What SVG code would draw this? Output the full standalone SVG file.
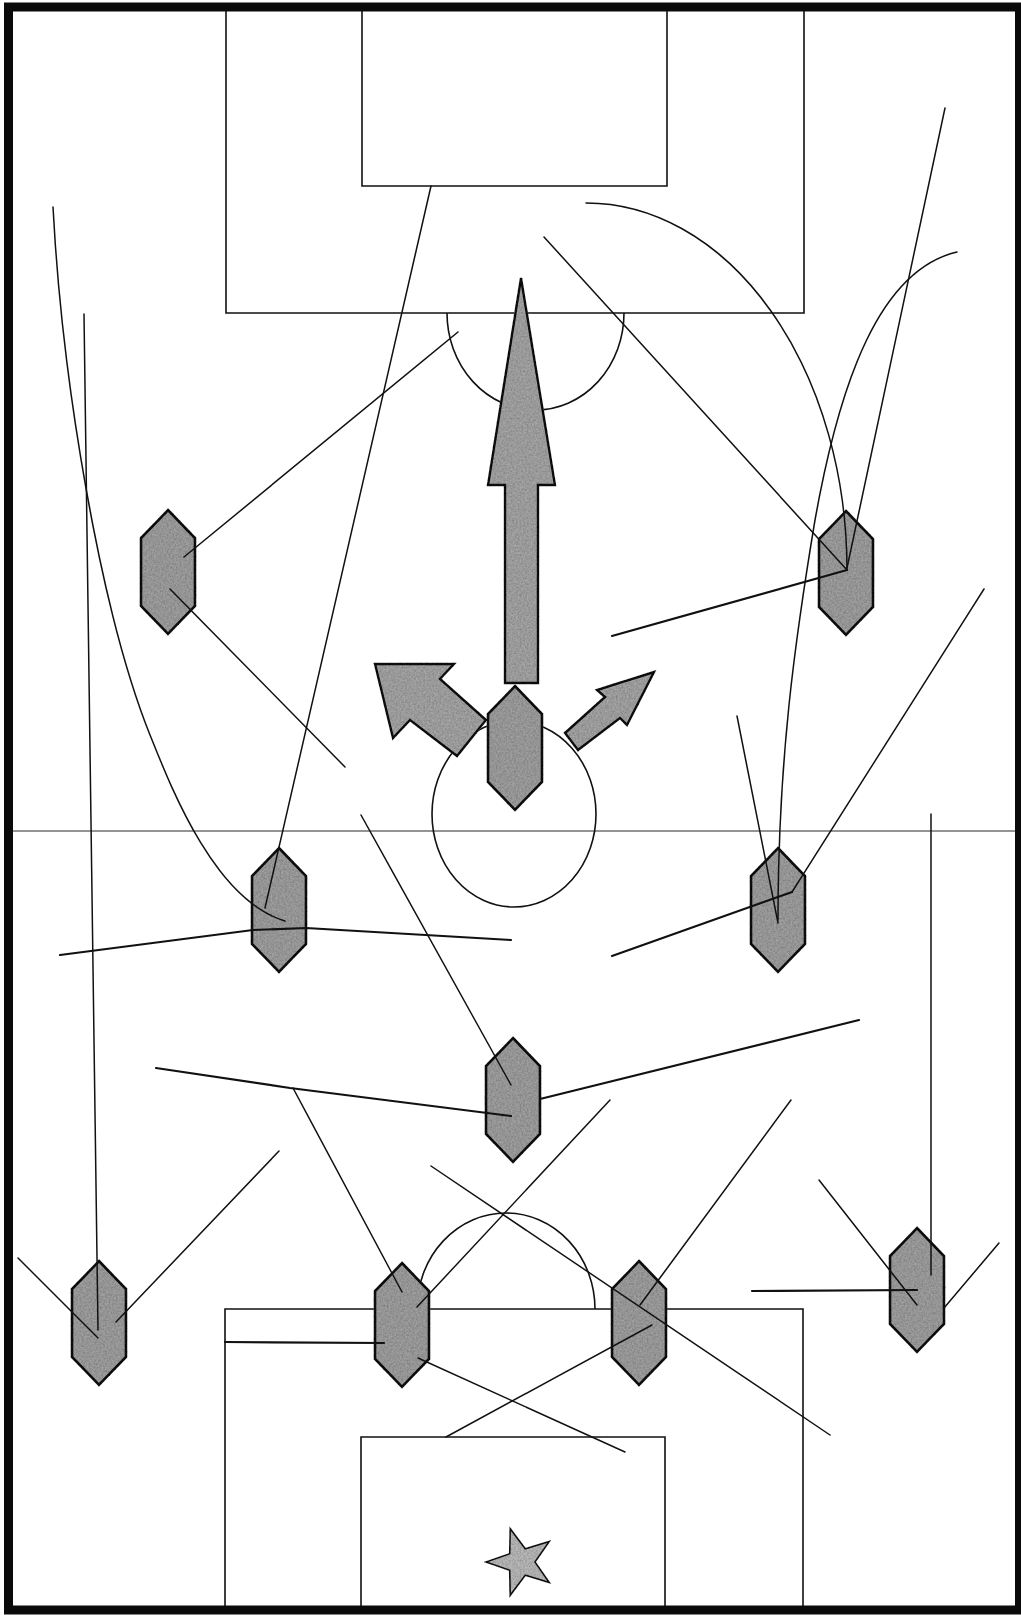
<svg xmlns="http://www.w3.org/2000/svg" xmlns:xlink="http://www.w3.org/1999/xlink" width="1021" height="1615" viewBox="0 0 1021 1615">
<style>
.pitch{fill:none;stroke:#111;stroke-width:1.6}
.half{fill:none;stroke:#707070;stroke-width:1.6}
.pl{fill:#a8a8a8;stroke:#0a0a0a;stroke-width:2.6;stroke-linejoin:miter}
.arr{fill:#aeaeae;stroke:#0a0a0a;stroke-width:2.4;stroke-linejoin:miter}
.ln{fill:none;stroke:#111;stroke-width:1.5;stroke-linecap:round;stroke-linejoin:round}
.lb{stroke-width:2.2}
.star{fill:#c4c4c4;stroke:#111;stroke-width:1.6}
</style>
<defs>
<polygon id="hex" points="0,-62 27,-34 27,34 0,62 -27,34 -27,-34"/>
<filter id="grain" filterUnits="userSpaceOnUse" x="0" y="0" width="1021" height="1615">
<feTurbulence type="fractalNoise" baseFrequency="0.55" numOctaves="2" seed="5" result="noise"/>
<feColorMatrix in="noise" type="saturate" values="0" result="g"/>
<feComponentTransfer in="g" result="g2">
<feFuncR type="linear" slope="1.8" intercept="-0.45"/>
<feFuncG type="linear" slope="1.8" intercept="-0.45"/>
<feFuncB type="linear" slope="1.8" intercept="-0.45"/>
<feFuncA type="linear" slope="0" intercept="0.45"/>
</feComponentTransfer>
<feComposite in="g2" in2="SourceGraphic" operator="in" result="tex"/>
<feBlend in="tex" in2="SourceGraphic" mode="multiply"/>
</filter>
</defs>
<rect x="0" y="0" width="1021" height="1615" fill="#fff"/>
<g id="pitch">
<rect x="8.5" y="7" width="1011" height="1603" fill="none" stroke="#0a0a0a" stroke-width="9"/>
<path class="pitch" d="M226,11V313H804V11"/>
<path class="pitch" d="M362,11V186H667V11"/>
<path class="pitch" d="M447,313A88.5,97 0 0 0 624,313"/>
<line class="half" x1="13" y1="831" x2="1015" y2="831"/>
<ellipse class="pitch" cx="514" cy="814" rx="82" ry="93"/>
<path class="pitch" d="M225,1606V1309H803V1606"/>
<path class="pitch" d="M361,1606V1437H665V1606"/>
<path class="pitch" d="M417,1309A89,96 0 0 1 595,1309"/>
</g>
<g filter="url(#grain)">
<g id="arrow-main"><polygon class="arr" points="521,278 555,485 538,485 538,683 505,683 505,485 488,485"/></g>
<g id="arrow-left"><polygon class="arr" points="375,664 454,664 440,679 486,720 457,756 410,720 393,738"/></g>
<g id="arrow-right"><polygon class="arr" points="654,672 597,690 605,697 565,733 578,750 620,718 627,725"/></g>
<g id="p1"><use xlink:href="#hex" href="#hex" class="pl" x="168" y="572"/></g>
<g id="p2"><use xlink:href="#hex" href="#hex" class="pl" x="846" y="573"/></g>
<g id="p3"><use xlink:href="#hex" href="#hex" class="pl" x="515" y="748"/></g>
<g id="p4"><use xlink:href="#hex" href="#hex" class="pl" x="279" y="910"/></g>
<g id="p5"><use xlink:href="#hex" href="#hex" class="pl" x="778" y="910"/></g>
<g id="p6"><use xlink:href="#hex" href="#hex" class="pl" x="513" y="1100"/></g>
<g id="p7"><use xlink:href="#hex" href="#hex" class="pl" x="99" y="1323"/></g>
<g id="p8"><use xlink:href="#hex" href="#hex" class="pl" x="402" y="1325"/></g>
<g id="p9"><use xlink:href="#hex" href="#hex" class="pl" x="639" y="1323"/></g>
<g id="p10"><use xlink:href="#hex" href="#hex" class="pl" x="917" y="1290"/></g>
<g id="star"><polygon class="star" points="486,1562 509.7,1553.8 510.2,1528.7 525.3,1548.7 549.3,1541.4 535,1562 549.3,1582.6 525.3,1575.3 510.2,1595.3 509.7,1570.2"/></g>
</g>
<g id="connectors">
<path class="ln" d="M53,207C62,380 100,610 150,735C172,790 215,900 285,921" stroke-width="1.8"/>
<path class="ln" d="M586,203A261,367 0 0 1 847,570" stroke-width="1.8"/>
<path class="ln" d="M957,252C880,270 840,380 815,520C795,640 778,760 778,920" stroke-width="1.7"/>
<line class="ln" x1="431" y1="186" x2="265" y2="908"/>
<line class="ln" x1="544" y1="237" x2="847" y2="570"/>
<line class="ln" x1="945" y1="108" x2="847" y2="568"/>
<line class="ln" x1="458" y1="332" x2="184" y2="557"/>
<line class="ln" x1="170" y1="589" x2="345" y2="767"/>
<line class="ln lb" x1="847" y1="570" x2="612" y2="636"/>
<line class="ln" x1="984" y1="589" x2="792" y2="892"/>
<line class="ln" x1="737" y1="716" x2="778" y2="923"/>
<line class="ln lb" x1="612" y1="956" x2="792" y2="892"/>
<polyline class="ln lb" points="60,955 253,930 306,928 511,940"/>
<line class="ln" x1="361" y1="815" x2="511" y2="1085"/>
<polyline class="ln lb" points="156,1068 290,1088 511,1116"/>
<line class="ln lb" x1="540" y1="1099" x2="859" y2="1020"/>
<line class="ln" x1="293" y1="1088" x2="402" y2="1292"/>
<line class="ln" x1="279" y1="1151" x2="116" y2="1322"/>
<line class="ln" x1="610" y1="1100" x2="417" y2="1307"/>
<line class="ln" x1="431" y1="1166" x2="830" y2="1435"/>
<line class="ln" x1="791" y1="1100" x2="640" y2="1305"/>
<line class="ln" x1="819" y1="1180" x2="917" y2="1305"/>
<line class="ln" x1="931" y1="814" x2="931" y2="1275"/>
<line class="ln" x1="18" y1="1258" x2="98" y2="1338"/>
<line class="ln" x1="84" y1="314" x2="98" y2="1330"/>
<line class="ln" x1="999" y1="1243" x2="944" y2="1308"/>
<line class="ln lb" x1="752" y1="1291" x2="917" y2="1290"/>
<line class="ln lb" x1="225" y1="1342" x2="384" y2="1343"/>
<line class="ln" x1="418" y1="1358" x2="625" y2="1452"/>
<line class="ln" x1="446" y1="1437" x2="652" y2="1325"/>
</g>
</svg>
